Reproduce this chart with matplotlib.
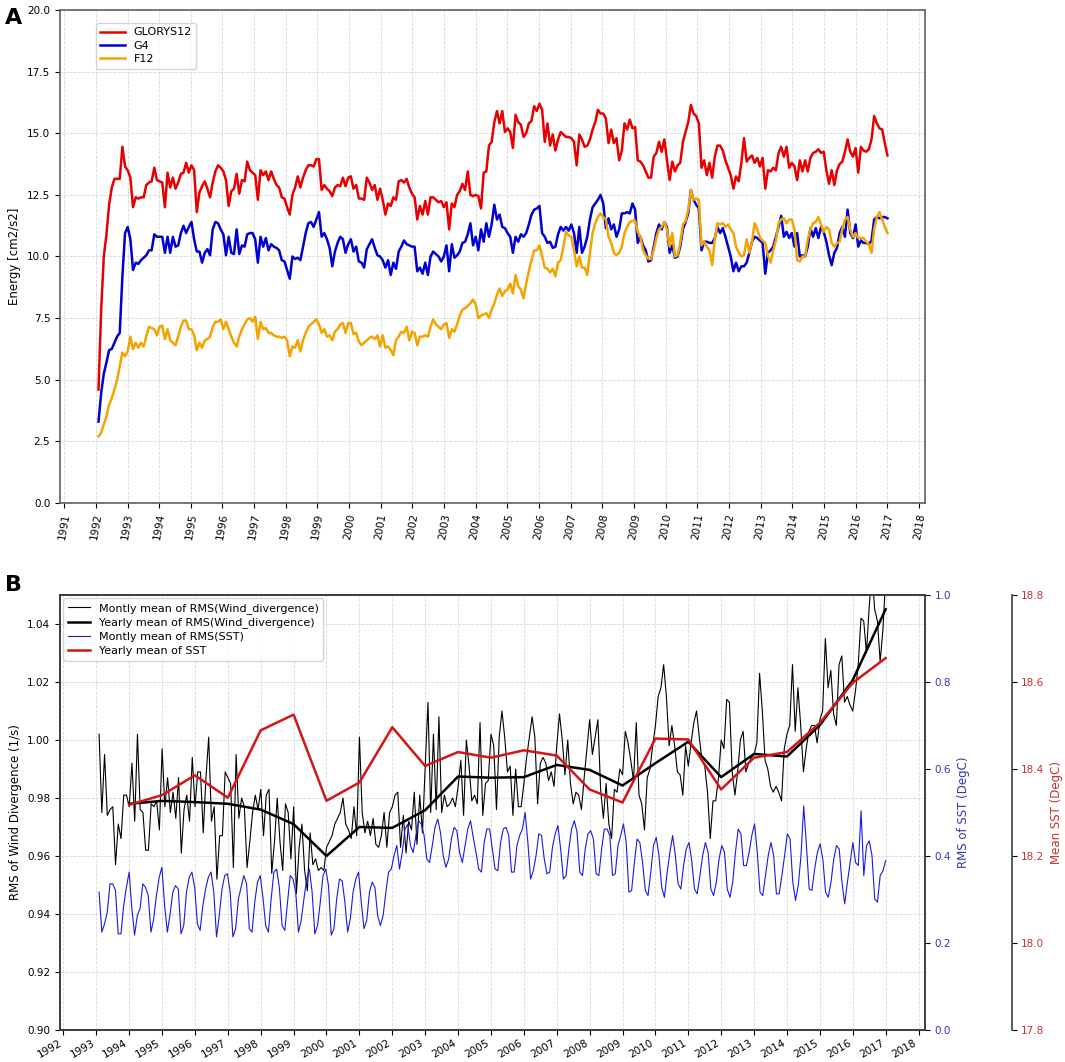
import numpy as np
import pandas as pd
import matplotlib
matplotlib.use('Agg')
import matplotlib.pyplot as plt
import matplotlib.dates as mdates
from matplotlib.ticker import FormatStrFormatter

# panel A: monthly energy [cm2/s2], Feb 1992 - Jan 2017
glorys12 = [4.6, 7.8, 10.0, 10.9, 12.1, 12.8, 13.15, 13.15, 13.15, 14.45,
            13.65, 13.5, 13.2, 12.0, 12.4, 12.35, 12.4, 12.4, 12.9, 13.0,
            13.05, 13.6, 13.1, 13.05, 13.0, 12.0, 13.4, 12.8, 13.2, 12.75,
            13.0, 13.35, 13.4, 13.8, 13.4, 13.7, 13.5, 11.8, 12.6, 12.85,
            13.05, 12.75, 12.4, 13.0, 13.45, 13.7, 13.6, 13.45, 13.1, 12.05,
            12.65, 12.75, 13.35, 12.55, 13.1, 13.05, 13.85, 13.5, 13.4, 13.3,
            12.3, 13.5, 13.3, 13.45, 13.1, 13.45, 13.15, 12.9, 12.8, 12.4,
            12.35, 12.0, 11.7, 12.5, 12.8, 13.25, 12.8, 13.2, 13.5, 13.7,
            13.7, 13.65, 13.95, 13.95, 12.7, 12.9, 12.75, 12.65, 12.45, 12.8,
            12.9, 12.85, 13.2, 12.85, 13.2, 13.25, 12.75, 12.9, 12.35, 12.35,
            12.3, 13.2, 13.0, 12.7, 12.9, 12.3, 12.75, 12.3, 11.7, 12.15,
            12.05, 12.4, 12.3, 13.05, 13.1, 13.0, 13.15, 12.8, 12.55, 12.4,
            11.5, 12.05, 11.7, 12.25, 11.7, 12.4, 12.4, 12.3, 12.2, 12.25,
            12.0, 12.2, 11.1, 12.15, 12.0, 12.5, 12.65, 12.95, 12.7,
            13.45, 12.5,
            12.45, 12.5, 12.45, 11.95, 13.4, 13.45, 14.5, 14.65, 15.45, 15.9,
            15.4, 15.9, 15.05, 15.2, 15.05, 14.4, 15.75, 15.45, 15.35, 14.85,
            15.0, 15.4, 15.5, 16.1, 15.9, 16.2, 15.95, 14.65, 15.4, 14.5,
            14.95, 14.3, 14.75, 15.05, 14.95, 14.85, 14.85, 14.8, 14.65, 13.7,
            14.95, 14.75, 14.45, 14.5, 14.75, 15.15, 15.45, 15.95, 15.8, 15.8,
            15.6, 14.6, 15.15, 14.6, 14.8, 13.9, 14.3, 15.4, 15.15, 15.55,
            15.2, 15.25, 13.9, 13.85, 13.7, 13.45, 13.2, 13.2, 14.05, 14.2,
            14.65, 14.25, 14.75, 13.9, 13.1, 13.85, 13.45, 13.7, 13.8, 14.65,
            15.05, 15.45, 16.15, 15.8, 15.7, 15.4, 13.6, 13.9, 13.3, 13.8,
            13.2, 14.05, 14.5, 14.5, 14.3, 13.9, 13.6, 13.3, 12.75, 13.25,
            13.05, 13.8, 14.8, 13.85, 14.0, 14.1, 13.8, 14.0, 13.65, 14.0,
            12.75, 13.5, 13.45, 13.6, 13.5, 14.2, 14.45, 14.05, 14.45, 13.6,
            13.8, 13.65, 13.1, 13.9, 13.45, 13.9, 13.45, 14.0, 14.2, 14.25,
            14.35, 14.2, 14.25, 13.5, 12.95, 13.5, 12.9, 13.5, 13.75, 13.85,
            14.25, 14.75, 14.25, 14.05, 14.4, 13.4, 14.45, 14.3, 14.25, 14.35,
            14.75, 15.7, 15.4, 15.2, 15.15, 14.6, 14.1]
g4 = [3.3, 4.45, 5.25, 5.7, 6.2, 6.25, 6.5, 6.75, 6.9, 9.2,
      10.95, 11.2, 10.7, 9.45, 9.75, 9.7, 9.85, 9.95, 10.05, 10.25,
      10.25, 10.9, 10.8, 10.8, 10.8, 10.15, 10.8, 10.15, 10.8, 10.4,
      10.45, 10.95, 11.25, 10.95, 11.2, 11.4, 10.7, 10.2, 10.2, 9.75,
      10.15, 10.3, 10.05, 11.1, 11.4, 11.35, 11.1, 10.9, 10.05, 10.8,
      10.15, 10.1, 11.1, 10.1, 10.45, 10.4, 10.9, 10.95, 10.95, 10.7,
      9.75, 10.8, 10.4, 10.75, 10.25, 10.5, 10.4, 10.35, 10.25, 9.85,
      9.8, 9.45, 9.1, 10.0, 9.9, 9.95, 9.85, 10.4, 10.95, 11.35,
      11.4, 11.2, 11.5, 11.8, 10.8, 10.95, 10.7, 10.35, 9.6, 10.2,
      10.55, 10.8, 10.7, 10.15, 10.5, 10.7, 10.2, 10.4, 9.8, 9.75,
      9.55, 10.3, 10.5, 10.7, 10.35, 10.05, 10.0, 9.85, 9.55, 9.85,
      9.25, 9.75, 9.5, 10.2, 10.4, 10.65, 10.5, 10.45, 10.4, 10.4,
      9.4, 9.55, 9.3, 9.75, 9.25, 10.0, 10.2, 10.1, 10.0, 9.8,
      10.0, 10.45, 9.4, 10.5, 9.95, 10.05, 10.2, 10.55, 10.6,
      10.9,
      11.35, 10.45, 10.8, 10.25, 11.1, 10.6, 11.35, 10.8, 11.3, 12.1,
      11.5, 11.7, 11.2, 11.15, 10.95, 10.8, 10.15, 10.8, 10.6, 10.9,
      10.8, 10.95, 11.3, 11.7, 11.9, 11.95, 12.05, 10.95, 10.8, 10.55,
      10.6, 10.35, 10.4, 10.9, 11.2, 11.05, 11.2, 11.05, 11.3, 10.95,
      10.15, 11.2, 10.15, 10.4, 10.8, 11.5, 12.0, 12.15, 12.3, 12.5,
      12.15, 11.15, 11.55, 11.1, 11.3, 10.8, 11.1, 11.75, 11.75, 11.8,
      11.75, 12.15, 11.9, 10.55, 10.8, 10.45, 10.25, 9.8, 9.85, 10.4,
      10.95, 11.3, 11.1, 11.4, 11.2, 10.15, 10.45, 9.95, 10.0, 10.4,
      11.1, 11.4, 11.75, 12.7, 12.3, 12.1, 11.95, 10.25, 10.6, 10.6,
      10.55, 10.55, 10.75, 11.2, 10.95, 11.15, 10.8, 10.4, 10.0, 9.4,
      9.75, 9.4, 9.6, 9.6, 9.75, 10.15, 10.6, 10.8, 10.75, 10.65,
      10.55, 9.3, 10.15, 10.25, 10.4, 10.8, 11.2, 11.65, 10.8, 11.0,
      10.75, 10.95, 10.4, 10.95, 10.0, 10.05, 10.0, 10.4, 11.15, 10.8,
      11.15, 10.75, 11.2, 11.0, 10.6, 10.05, 9.65, 10.15, 10.35, 10.95,
      11.2, 10.8, 11.9, 10.95, 10.75, 11.3, 10.4, 10.65, 10.55, 10.55,
      10.5, 10.65, 11.5, 11.6, 11.55, 11.6, 11.6, 11.55]
f12 = [2.7, 2.85, 3.2, 3.5, 4.0, 4.25, 4.6, 5.0, 5.55, 6.1,
       5.95, 6.15, 6.75, 6.25, 6.5, 6.3, 6.5, 6.35, 6.75, 7.15,
       7.1, 7.05, 6.8, 7.15, 7.2, 6.65, 7.05, 6.6, 6.5, 6.4,
       6.75, 7.15, 7.4, 7.4, 7.05, 7.05, 6.8, 6.2, 6.5, 6.3,
       6.6, 6.65, 6.75, 7.15, 7.35, 7.35, 7.45, 7.05, 7.35, 7.05,
       6.75, 6.5, 6.35, 6.75, 7.05, 7.25, 7.45, 7.5, 7.35, 7.55,
       6.65, 7.35, 7.05, 7.1, 6.9, 6.9, 6.8, 6.75, 6.75, 6.7,
       6.75, 6.6, 5.95, 6.35, 6.3, 6.6, 6.15, 6.6, 6.9, 7.15,
       7.25, 7.35, 7.45, 7.25, 6.9, 7.05, 6.75, 6.8, 6.6, 6.95,
       7.05, 7.25, 7.3, 6.9, 7.3, 7.3, 6.85, 6.9, 6.55, 6.4,
       6.5, 6.6, 6.7, 6.75, 6.65, 6.8, 6.35, 6.8, 6.3, 6.35,
       6.2, 6.0, 6.6, 6.75, 6.95, 6.9, 7.15, 6.6, 6.95, 6.9,
       6.4, 6.75, 6.75, 6.8, 6.75, 7.15, 7.45, 7.25, 7.15, 7.05,
       7.25, 7.3, 6.7, 7.05, 6.95, 7.25, 7.6, 7.85, 7.9,
       8.0,
       8.1, 8.25, 8.05, 7.5, 7.6, 7.65, 7.7, 7.5, 7.85, 8.1,
       8.45, 8.7, 8.4, 8.6, 8.65, 8.9, 8.5, 9.25, 8.8, 8.65,
       8.3, 8.9, 9.4, 9.85, 10.25, 10.25, 10.45, 10.0, 9.55, 9.5,
       9.35, 9.5, 9.2, 9.75, 9.85, 10.4, 11.0, 10.85, 10.8, 10.25,
       9.6, 10.0, 9.55, 9.55, 9.25, 10.15, 10.95, 11.35, 11.6, 11.75,
       11.6, 11.5, 10.8, 10.55, 10.15, 10.05, 10.15, 10.4, 10.95, 11.2,
       11.4, 11.45, 11.45, 11.0, 10.8, 10.25, 10.05, 9.9, 9.9, 10.25,
       10.75, 11.1, 11.2, 11.4, 11.1, 10.4, 10.95, 10.0, 10.05, 10.55,
       11.3, 11.45, 11.9, 12.7, 12.3, 12.35, 12.3, 10.45, 10.6, 10.4,
       10.25, 9.65, 10.7, 11.35, 11.3, 11.35, 11.2, 11.3, 11.1, 10.95,
       10.4, 10.15, 10.0, 10.05, 10.7, 10.15, 10.6, 11.35, 11.1, 10.75,
       10.65, 10.55, 10.05, 9.75, 10.25, 10.65, 11.35, 11.5, 11.55, 11.35,
       11.5, 11.5, 11.1, 9.85, 9.8, 10.0, 10.0, 10.7, 11.1, 11.35,
       11.4, 11.6, 11.3, 11.0, 11.2, 11.1, 10.55, 10.4, 10.55, 10.6,
       11.1, 11.5, 11.6, 11.1, 10.8, 10.95, 10.75, 10.75, 10.75, 10.6,
       10.5, 10.15, 11.1, 11.6, 11.8, 11.5, 11.2, 10.95]

# panel B: monthly RMS of wind divergence (1/s), Feb 1993 - Jan 2017
wind_monthly = [1.002, 0.975, 0.995, 0.974, 0.976, 0.977, 0.957, 0.971, 0.966, 0.981,
                0.981, 0.977, 0.992, 0.972, 1.002, 0.976, 0.975, 0.962, 0.962, 0.978,
                0.977, 0.979, 0.969, 0.997, 0.977, 0.987, 0.975, 0.982, 0.973, 0.987,
                0.961, 0.976, 0.981, 0.972, 0.994, 0.977, 0.989, 0.989, 0.968, 0.987,
                1.001, 0.972, 0.977, 0.952, 0.967, 0.967, 0.989, 0.987, 0.985, 0.956,
                0.995, 0.973, 0.980, 0.977, 0.956, 0.965, 0.975, 0.981, 0.976, 0.983,
                0.967, 0.981, 0.983, 0.954, 0.965, 0.980, 0.965, 0.955, 0.978, 0.975,
                0.959, 0.977, 0.947, 0.963, 0.971, 0.955, 0.948, 0.968, 0.957, 0.959,
                0.955, 0.956, 0.955, 0.963, 0.965, 0.967, 0.971, 0.973, 0.975, 0.980,
                0.971, 0.969, 0.966, 0.977, 0.967, 1.001, 0.975, 0.968, 0.972, 0.967,
                0.973, 0.964, 0.963, 0.967, 0.975, 0.963, 0.975, 0.977, 0.981, 0.982,
                0.963, 0.974, 0.961, 0.972, 0.969, 0.982, 0.964, 0.981, 0.968, 0.991,
                1.013, 0.975, 1.002, 0.976, 1.008, 0.975, 0.981, 0.977, 0.978, 0.980,
                0.977, 0.984, 0.993, 0.974, 1.000, 0.991, 0.979, 0.981,
                0.978, 1.006, 0.974, 0.985, 0.986, 1.002, 0.998, 0.976, 1.001, 1.010,
                1.001, 0.989, 0.991, 0.974, 0.990, 0.977, 0.977, 0.985, 0.994, 1.001,
                1.008, 1.001, 0.978, 0.992, 0.994, 0.992, 0.986, 0.989, 0.984, 0.998,
                1.009, 1.000, 0.988, 1.000, 0.985, 0.978, 0.982, 0.981, 0.976, 0.987,
                0.997, 1.007, 0.995, 1.001, 1.007, 0.983, 0.973, 0.985, 0.971, 0.966,
                0.983, 0.982, 0.990, 0.988, 1.003, 0.999, 0.993, 0.986, 1.006, 0.981,
                0.978, 0.969, 0.987, 0.990, 0.998, 1.005, 1.015, 1.018, 1.026, 1.015,
                0.998, 1.005, 0.998, 0.989, 0.988, 0.981, 0.998, 0.991, 0.999, 1.006,
                1.010, 1.001, 0.993, 0.991, 0.982, 0.966, 0.979, 0.979, 0.987, 1.000,
                0.997, 1.014, 1.013, 0.989, 0.981, 0.989, 1.000, 1.003, 0.989, 0.992,
                0.994, 0.995, 0.999, 1.023, 1.010, 0.993, 0.990, 0.984, 0.982, 0.984,
                0.982, 0.979, 0.997, 1.002, 1.005, 1.026, 1.003, 1.018, 1.005, 0.989,
                0.997, 1.003, 1.005, 1.005, 0.999, 1.007, 1.010, 1.035, 1.018, 1.024,
                1.009, 1.005, 1.026, 1.029, 1.013, 1.015, 1.012, 1.010, 1.017, 1.026,
                1.042, 1.041, 1.030, 1.046, 1.058, 1.045, 1.041, 1.027, 1.038, 1.056]
wind_yearly = [0.978, 0.979, 0.9786, 0.978, 0.976, 0.971, 0.960, 0.970, 0.9697, 0.9758,
               0.9874, 0.987, 0.9872, 0.9914, 0.9897, 0.9843, 0.992, 0.9994, 0.9872, 0.9952,
               0.9943, 1.0051, 1.0206, 1.0451]
sst_rms_monthly = [0.317, 0.225, 0.244, 0.271, 0.336, 0.336, 0.321, 0.221, 0.221, 0.286,
                   0.328, 0.363, 0.279, 0.218, 0.263, 0.279, 0.336, 0.328, 0.309, 0.225,
                   0.256, 0.309, 0.351, 0.374, 0.286, 0.225, 0.267, 0.317, 0.332, 0.324,
                   0.221, 0.240, 0.317, 0.351, 0.363, 0.328, 0.244, 0.229, 0.286, 0.324,
                   0.351, 0.363, 0.317, 0.214, 0.263, 0.324, 0.355, 0.359, 0.317, 0.214,
                   0.233, 0.301, 0.328, 0.355, 0.336, 0.233, 0.225, 0.294, 0.340, 0.355,
                   0.305, 0.240, 0.225, 0.301, 0.363, 0.370, 0.328, 0.240, 0.229, 0.294,
                   0.355, 0.347, 0.317, 0.225, 0.252, 0.301, 0.347, 0.370, 0.317, 0.221,
                   0.240, 0.294, 0.355, 0.370, 0.332, 0.218, 0.233, 0.301, 0.347, 0.343,
                   0.294, 0.225, 0.256, 0.317, 0.347, 0.363, 0.294, 0.233, 0.252, 0.317,
                   0.340, 0.328, 0.263, 0.240, 0.263, 0.317, 0.363, 0.370, 0.401, 0.424,
                   0.370, 0.408, 0.462, 0.473, 0.424, 0.408, 0.447, 0.481, 0.473, 0.447,
                   0.393, 0.385, 0.424, 0.466, 0.485, 0.454, 0.401, 0.374, 0.393, 0.439,
                   0.466, 0.458, 0.408, 0.385, 0.424, 0.462, 0.481, 0.443,
                   0.408, 0.370, 0.363, 0.431, 0.462, 0.462, 0.416, 0.370, 0.366, 0.431,
                   0.462, 0.466, 0.447, 0.363, 0.363, 0.424, 0.447, 0.462, 0.500, 0.431,
                   0.347, 0.366, 0.401, 0.451, 0.447, 0.393, 0.359, 0.363, 0.420, 0.451,
                   0.470, 0.416, 0.347, 0.355, 0.416, 0.462, 0.481, 0.455, 0.363, 0.355,
                   0.416, 0.451, 0.458, 0.439, 0.359, 0.355, 0.416, 0.462, 0.462, 0.447,
                   0.355, 0.359, 0.424, 0.447, 0.474, 0.431, 0.317, 0.321, 0.385, 0.439,
                   0.431, 0.385, 0.321, 0.309, 0.363, 0.424, 0.443, 0.401, 0.328, 0.305,
                   0.363, 0.408, 0.447, 0.401, 0.336, 0.324, 0.378, 0.416, 0.431, 0.389,
                   0.324, 0.313, 0.355, 0.401, 0.431, 0.408, 0.324, 0.309, 0.340, 0.393,
                   0.424, 0.408, 0.324, 0.305, 0.340, 0.408, 0.462, 0.451, 0.378, 0.378,
                   0.408, 0.447, 0.474, 0.408, 0.317, 0.309, 0.355, 0.401, 0.431, 0.401,
                   0.313, 0.313, 0.355, 0.401, 0.451, 0.439, 0.340, 0.298, 0.332, 0.401,
                   0.515, 0.424, 0.324, 0.321, 0.370, 0.408, 0.428, 0.393, 0.317, 0.305,
                   0.340, 0.393, 0.424, 0.416, 0.340, 0.290, 0.340, 0.385, 0.431, 0.385,
                   0.378, 0.504, 0.355, 0.424, 0.435, 0.401, 0.301, 0.294, 0.355, 0.366,
                   0.389]
sst_yearly = [18.3175, 18.340, 18.3855, 18.334, 18.489, 18.525, 18.327, 18.369, 18.496, 18.407,
              18.439, 18.426, 18.443, 18.431, 18.353, 18.323, 18.470, 18.468, 18.353, 18.426,
              18.439, 18.506, 18.598, 18.655]

def span(start, end, n):
    return pd.date_range(start, end, periods=n)

years_B = pd.date_range('1994-01-01', '2017-01-01', freq='YS')

W, H = 1065, 1062
fig = plt.figure(figsize=(W / 100, H / 100), dpi=100)
fs = 8.5     # axis labels
tfs = 7.5    # tick labels
lfs = 8      # legends
grid_kw = dict(color='#d8d8d8', linestyle='--', linewidth=0.6)

# ---------------- panel A ----------------
axA = fig.add_axes([60 / W, 1 - 503 / H, 865 / W, 493 / H])
axA.plot(span('1992-02-01', '2017-01-01', len(glorys12)), glorys12, color='#e80000', lw=1.8, label='GLORYS12')
axA.plot(span('1992-02-01', '2017-01-01', len(g4)), g4, color='#0000d0', lw=1.8, label='G4')
axA.plot(span('1992-02-01', '2017-01-01', len(f12)), f12, color='#f5a300', lw=1.8, label='F12')
axA.set_ylim(0, 20)
axA.set_yticks(np.arange(0, 20.1, 2.5))
axA.yaxis.set_major_formatter(FormatStrFormatter('%.1f'))
axA.set_xlim(pd.Timestamp('1990-11-14'), pd.Timestamp('2018-03-10'))
axA.xaxis.set_major_locator(mdates.YearLocator(1))
axA.xaxis.set_major_formatter(mdates.DateFormatter('%Y'))
axA.tick_params(axis='x', labelrotation=80, labelsize=tfs)
axA.tick_params(axis='y', labelsize=tfs)
axA.set_ylabel('Energy [cm2/s2]', fontsize=fs)
axA.grid(True, **grid_kw)
for s in axA.spines.values():
    s.set_color('#606060')
    s.set_linewidth(1.2)
axA.legend(loc='upper left', bbox_to_anchor=(0.035, 0.985), fontsize=lfs,
           handlelength=2.2, labelspacing=0.3)
fig.text(5 / W, 1 - 18 / H, 'A', fontsize=16, fontweight='bold', va='center')

# ---------------- panel B ----------------
axB = fig.add_axes([60 / W, 1 - 1030 / H, 865 / W, 435 / H])
axB2 = axB.twinx()
axB3 = axB.twinx()
axB3.spines['right'].set_position(('axes', 1.1))

l1, = axB.plot(span('1993-02-01', '2017-01-01', len(wind_monthly)), wind_monthly, color='black', lw=0.8,
               label='Montly mean of RMS(Wind_divergence)')
l2, = axB.plot(years_B, wind_yearly, color='black', lw=1.8, label='Yearly mean of RMS(Wind_divergence)')
l3, = axB2.plot(span('1993-02-01', '2017-01-01', len(sst_rms_monthly)), sst_rms_monthly, color='#1a1ae0', lw=0.8,
                label='Montly mean of RMS(SST)')
l4, = axB3.plot(years_B, sst_yearly, color='#d41515', lw=1.8, label='Yearly mean of SST')

axB.set_ylim(0.90, 1.05)
axB.set_yticks(np.arange(0.90, 1.041, 0.02))
axB.yaxis.set_major_formatter(FormatStrFormatter('%.2f'))
axB.set_xlim(pd.Timestamp('1991-11-25'), pd.Timestamp('2018-03-14'))
axB.xaxis.set_major_locator(mdates.YearLocator(1))
axB.xaxis.set_major_formatter(mdates.DateFormatter('%Y'))
for lab in axB.get_xticklabels():
    lab.set_rotation(30)
    lab.set_ha('right')
axB.tick_params(labelsize=tfs)
axB.tick_params(axis='x', pad=2)
axB.set_ylabel('RMS of Wind Divergence (1/s)', fontsize=fs)
axB.grid(True, **grid_kw)

blue_c = '#3535b0'
red_c = '#c83030'
axB2.set_ylim(0, 1.0)
axB2.set_yticks(np.arange(0, 1.01, 0.2))
axB2.yaxis.set_major_formatter(FormatStrFormatter('%.1f'))
axB2.tick_params(axis='y', labelcolor=blue_c, labelsize=tfs)
axB2.set_ylabel('RMS of SST (DegC)', color=blue_c, fontsize=fs)

axB3.set_ylim(17.8, 18.8)
axB3.set_yticks(np.arange(17.8, 18.81, 0.2))
axB3.yaxis.set_major_formatter(FormatStrFormatter('%.1f'))
axB3.tick_params(axis='y', labelcolor=red_c, labelsize=tfs)
axB3.set_ylabel('Mean SST (DegC)', color=red_c, fontsize=fs)

for a in (axB, axB2, axB3):
    for s in a.spines.values():
        s.set_color('#404040')
        s.set_linewidth(1.2)

axB3.legend(handles=[l1, l2, l3, l4], loc='upper left', fontsize=lfs,
            borderaxespad=0.3, labelspacing=0.35)
fig.text(5 / W, 1 - 585 / H, 'B', fontsize=16, fontweight='bold', va='center')

fig.savefig('out.png', dpi=100)
